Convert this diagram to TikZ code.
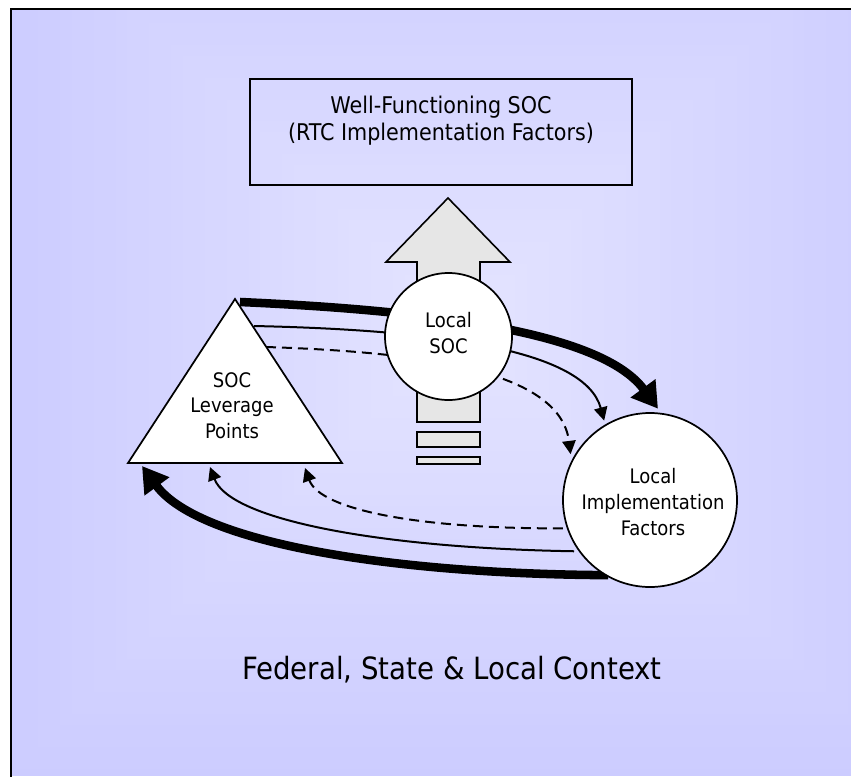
\documentclass[tikz,border=0pt]{standalone}
\usepackage{fontspec}
\setmainfont{DejaVu Sans Condensed}
\usetikzlibrary{arrows.meta}
\definecolor{paneedge}{HTML}{CCCCFF}
\definecolor{panecore}{HTML}{E4E4FF}
\definecolor{uparrow}{HTML}{E6E6E6}
\pgfdeclarelayer{backdrop}
\pgfdeclarelayer{links}
\pgfsetlayers{backdrop,links,main}
\begin{document}
\begin{tikzpicture}[x=0.75pt,y=-0.75pt,
  outline/.style={draw=black, line width=1.3pt},
  labeltext/.style={align=center, inner sep=0pt, font={\fontsize{15}{19.3}\selectfont}},
  bigflow/.style={line width=6.4pt, -{Triangle[length=19pt,width=22pt]}},
  thinflow/.style={line width=1.5pt, -{Triangle[length=10pt,width=10pt]}},
  dashflow/.style={thinflow, dash pattern=on 7.5pt off 4.5pt},
]
\useasboundingbox (0,0) rectangle (851,776);

% ---- backdrop: shaded context panel, frame and the upward arrow
\begin{pgfonlayer}{backdrop}
  \fill[white] (0,0) rectangle (851,776);
  \begin{scope}
    \clip (11,9) rectangle (851,776);
    \fill[paneedge] (11,9) rectangle (851,776);
    \foreach \i in {1,...,40}{
      \pgfmathsetmacro{\f}{1-\i/41}
      \pgfmathsetmacro{\p}{100*\i/40}
      \fill[panecore!\p!paneedge] (460-455*\f,330-450*\f) rectangle (460+455*\f,330+450*\f);
    }
  \end{scope}
  \draw[line width=1.5pt] (11,9) rectangle (880,800);
  % upward arrow with its two bars
  \draw[outline, fill=uparrow, line width=1.2pt]
    (448,198) -- (510,262) -- (480,262) -- (480,422) -- (417,422) -- (417,262) -- (386,262) -- cycle;
  \draw[outline, fill=uparrow, line width=1.2pt] (417,432) rectangle (480,447);
  \draw[outline, fill=uparrow, line width=1.2pt] (417,457) rectangle (480,464);
\end{pgfonlayer}

% ---- top box
\node[outline, line width=1.5pt, minimum width=286.5pt, minimum height=79.5pt, inner sep=0pt] (goal) at (441,132) {};
\node[align=center, inner sep=0pt, font={\fontsize{17.25}{20.25}\selectfont}] (goaltext) at (441,120.5)
  {Well-Functioning SOC\\(RTC Implementation Factors)};

% ---- leverage triangle
\coordinate (levtop) at (235,299);
\coordinate (levleft) at (128,463);
\coordinate (levright) at (342,463);
\draw[outline, fill=white] (levtop) -- (levleft) -- (levright) -- cycle;
\node[labeltext] (lev) at (232,405.5) {SOC\\Leverage\\Points};

% connector ends on the triangle
\coordinate (levA) at (240,302);
\coordinate (levB) at (254,326);
\coordinate (levC) at (266,347);
\coordinate (levD) at (142,466);
\coordinate (levE) at (210,467);
\coordinate (levF) at (305,468);

% ---- circles
\node[circle, outline, fill=white, minimum size=95.25pt, inner sep=0pt] (soc) at (448.5,336.5) {};
\node[labeltext] (soctext) at (448.5,333) {Local\\SOC};
\node[circle, outline, fill=white, minimum size=130.5pt, inner sep=0pt, outer sep=3.5pt] (lif) at (650,500) {};
\node[labeltext] (liftext) at (653,502) {Local\\Implementation\\Factors};

% ---- feedback loops
\begin{pgfonlayer}{links}
  \draw[bigflow] (levA) .. controls (420,310) and (600,330) .. (lif.85);
  \draw[thinflow] (levB) .. controls (440,330) and (585,350) .. (lif.120);
  \draw[dashflow] (levC) .. controls (420,352) and (560,370) .. (lif.150);
  \draw[bigflow, shorten <=-8pt] (lif.235) .. controls (400,574) and (200,545) .. (levD);
  \draw[thinflow] (lif.214) .. controls (380,548) and (230,520) .. (levE);
  \draw[dashflow] (lif.198) .. controls (420,529) and (320,510) .. (levF);
\end{pgfonlayer}

% ---- context caption
\node[anchor=base west, inner sep=0pt, font={\fontsize{23}{27}\selectfont}] (ctx) at (242,679)
  {Federal, State \& Local Context};
\end{tikzpicture}
\end{document}
